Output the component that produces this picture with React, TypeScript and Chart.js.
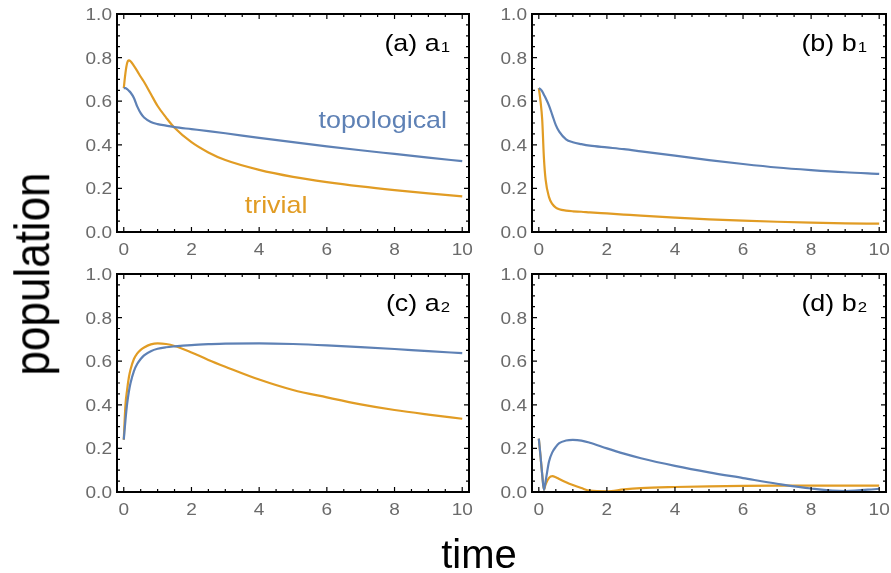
import React, { useEffect, useRef } from "react";
import { Chart, registerables } from "chart.js";

Chart.register(...registerables);

// ---------------- data ----------------
const TIME = [0, 0.05, 0.1, 0.15, 0.2, 0.3, 0.4, 0.5, 0.6, 0.8, 1, 1.25, 1.5, 2, 2.5, 3, 4, 5, 6, 7, 8, 9, 10];

const A1_TOPO = [0.66, 0.66, 0.655, 0.648, 0.64, 0.615, 0.575, 0.545, 0.525, 0.505, 0.495, 0.488, 0.481, 0.472, 0.463, 0.453, 0.432, 0.412, 0.393, 0.375, 0.358, 0.341, 0.325];
const A1_TRIV = [0.66, 0.73, 0.775, 0.787, 0.783, 0.762, 0.738, 0.712, 0.688, 0.633, 0.578, 0.525, 0.478, 0.412, 0.365, 0.33, 0.285, 0.253, 0.229, 0.209, 0.192, 0.177, 0.163];

const B1_TOPO = [0.66, 0.655, 0.645, 0.63, 0.615, 0.58, 0.535, 0.49, 0.46, 0.425, 0.412, 0.403, 0.396, 0.388, 0.38, 0.37, 0.35, 0.33, 0.312, 0.296, 0.284, 0.274, 0.267];
const B1_TRIV = [0.66, 0.6, 0.515, 0.34, 0.24, 0.16, 0.128, 0.112, 0.104, 0.098, 0.095, 0.093, 0.09, 0.085, 0.08, 0.075, 0.066, 0.058, 0.052, 0.047, 0.043, 0.04, 0.038];

const A2_TOPO = [0.24, 0.33, 0.405, 0.46, 0.5, 0.555, 0.588, 0.61, 0.627, 0.646, 0.657, 0.664, 0.668, 0.674, 0.678, 0.681, 0.682, 0.679, 0.673, 0.665, 0.656, 0.646, 0.637];
const A2_TRIV = [0.24, 0.4, 0.47, 0.525, 0.562, 0.61, 0.636, 0.652, 0.663, 0.677, 0.682, 0.679, 0.67, 0.64, 0.606, 0.575, 0.516, 0.468, 0.434, 0.402, 0.376, 0.355, 0.336];

const B2_TOPO = [0.245, 0.165, 0.08, 0.01, 0.05, 0.14, 0.183, 0.207, 0.224, 0.236, 0.239, 0.236, 0.226, 0.2, 0.176, 0.155, 0.12, 0.09, 0.064, 0.038, 0.016, 0.004, 0.015];
const B2_TRIV = [0.245, 0.165, 0.08, 0.01, 0.035, 0.065, 0.073, 0.068, 0.06, 0.045, 0.032, 0.018, 0.006, 0.003, 0.012, 0.018, 0.023, 0.026, 0.028, 0.029, 0.029, 0.029, 0.029];

const X_TICKS = [0, 2, 4, 6, 8, 10];
const X_TICK_LABELS = ["0", "2", "4", "6", "8", "10"];
const Y_TICKS = [0, 0.2, 0.4, 0.6, 0.8, 1.0];
const Y_TICK_LABELS = ["0.0", "0.2", "0.4", "0.6", "0.8", "1.0"];

const PANEL_NAMES = ["(a) a", "(b) b", "(c) a", "(d) b"];
const PANEL_SUBS = ["1", "1", "2", "2"];
const SERIES_NAMES = ["topological", "trivial"];

const X_TITLE = "time";
const Y_TITLE = "population";

// ---------------- styles ----------------
const BLUE = "#5E81B5";
const ORANGE = "#E19C24";
const TICK_GRAY = "#6a6a6a";
const FONT = "'Liberation Sans', Arial, sans-serif";
const SX = 1.12;

const W = 891;
const H = 573;

const AREAS = [
  { left: 117, top: 14, right: 469, bottom: 232 },
  { left: 532, top: 14, right: 886, bottom: 232 },
  { left: 117, top: 274, right: 469, bottom: 492 },
  { left: 532, top: 274, right: 886, bottom: 492 },
];

const SERIES = [
  [A1_TOPO, A1_TRIV],
  [B1_TOPO, B1_TRIV],
  [A2_TOPO, A2_TRIV],
  [B2_TOPO, B2_TRIV],
];

function stretchText(
  ctx: CanvasRenderingContext2D,
  text: string,
  x: number,
  y: number,
  font: string,
  color: string,
  align: CanvasTextAlign,
  sx = SX
) {
  ctx.save();
  ctx.font = font;
  ctx.fillStyle = color;
  ctx.textAlign = align;
  ctx.textBaseline = "alphabetic";
  ctx.translate(x, y);
  ctx.scale(sx, 1);
  ctx.fillText(text, 0, 0);
  ctx.restore();
}

function makeFramePlugin(idx: number) {
  return {
    id: "frame" + idx,
    afterDatasetsDraw(chart: any) {
      const ctx: CanvasRenderingContext2D = chart.ctx;
      const a = chart.chartArea;
      const xs = chart.scales.x;
      const ys = chart.scales.y;
      ctx.save();
      // ticks
      ctx.strokeStyle = "#000";
      ctx.lineWidth = 1.2;
      ctx.beginPath();
      for (let i = 0; i <= 20; i++) {
        const v = i * 0.5;
        const px = xs.getPixelForValue(v);
        const len = i % 4 === 0 ? 5 : 3;
        ctx.moveTo(px, a.bottom);
        ctx.lineTo(px, a.bottom - len);
        ctx.moveTo(px, a.top);
        ctx.lineTo(px, a.top + len);
      }
      for (let i = 0; i <= 20; i++) {
        const v = i * 0.05;
        const py = ys.getPixelForValue(v);
        const len = i % 4 === 0 ? 5 : 3;
        ctx.moveTo(a.left, py);
        ctx.lineTo(a.left + len, py);
        ctx.moveTo(a.right, py);
        ctx.lineTo(a.right - len, py);
      }
      ctx.stroke();
      // frame
      ctx.lineWidth = 2;
      ctx.strokeRect(a.left, a.top, a.right - a.left, a.bottom - a.top);
      ctx.restore();

      // tick labels
      const tf = "17px " + FONT;
      X_TICKS.forEach((v, i) => {
        stretchText(ctx, X_TICK_LABELS[i], xs.getPixelForValue(v), a.bottom + 23, tf, TICK_GRAY, "center");
      });
      Y_TICKS.forEach((v, i) => {
        stretchText(ctx, Y_TICK_LABELS[i], a.left - 5, ys.getPixelForValue(v) + 6, tf, TICK_GRAY, "right");
      });

      // panel label with subscript
      const mainFont = "24px " + FONT;
      const subFont = "15px " + FONT;
      ctx.save();
      ctx.font = subFont;
      const subW = ctx.measureText(PANEL_SUBS[idx]).width * SX;
      ctx.restore();
      const rightX = a.right - 19;
      const base = a.top + 37;
      stretchText(ctx, PANEL_SUBS[idx], rightX, base + 1, subFont, "#000", "right");
      stretchText(ctx, PANEL_NAMES[idx], rightX - subW - 1, base, mainFont, "#000", "right");

      if (idx === 0) {
        const nf = "24px " + FONT;
        stretchText(ctx, SERIES_NAMES[0], xs.getPixelForValue(9.55), ys.getPixelForValue(0.477), nf, BLUE, "right");
        stretchText(ctx, SERIES_NAMES[1], xs.getPixelForValue(4.5), ys.getPixelForValue(0.087), nf, ORANGE, "center");
      }
    },
  };
}

function Panel({ idx }: { idx: number }) {
  const ref = useRef<HTMLCanvasElement | null>(null);
  useEffect(() => {
    if (!ref.current) return;
    const area = AREAS[idx];
    const [topo, triv] = SERIES[idx];
    const chart = new Chart(ref.current, {
      type: "line",
      data: {
        datasets: [
          {
            label: SERIES_NAMES[0],
            data: TIME.map((t, i) => ({ x: t, y: topo[i] })),
            borderColor: BLUE,
            borderWidth: 2.2,
            pointRadius: 0,
            cubicInterpolationMode: "monotone",
            fill: false,
          },
          {
            label: SERIES_NAMES[1],
            data: TIME.map((t, i) => ({ x: t, y: triv[i] })),
            borderColor: ORANGE,
            borderWidth: 2.2,
            pointRadius: 0,
            cubicInterpolationMode: "monotone",
            fill: false,
          },
        ],
      },
      options: {
        responsive: false,
        animation: false,
        events: [],
        layout: {
          padding: {
            left: area.left,
            top: area.top,
            right: W - area.right,
            bottom: H - area.bottom,
          },
        },
        plugins: { legend: { display: false }, tooltip: { enabled: false } },
        scales: {
          x: { type: "linear", min: -0.2, max: 10.2, display: false },
          y: { type: "linear", min: 0, max: 1, display: false },
        },
      },
      plugins: [makeFramePlugin(idx)],
    } as any);
    return () => chart.destroy();
  }, [idx]);
  return (
    <canvas
      ref={ref}
      width={W}
      height={H}
      style={{ position: "absolute", left: 0, top: 0, width: W, height: H }}
    />
  );
}

export default function App() {
  return (
    <div
      style={{
        position: "absolute",
        left: 0,
        top: 0,
        width: W,
        height: H,
        background: "#fff",
        overflow: "hidden",
        fontFamily: FONT,
      }}
    >
      {[0, 1, 2, 3].map((i) => (
        <Panel key={i} idx={i} />
      ))}
      <div
        style={{
          position: "absolute",
          left: 32,
          top: 274,
          transform: "translate(-50%, -50%) rotate(-90deg) scale(1, 1.15)",
          fontSize: 44,
          lineHeight: 1,
          whiteSpace: "nowrap",
          color: "#000",
        }}
      >
        {Y_TITLE}
      </div>
      <div
        style={{
          position: "absolute",
          left: 479,
          top: 534,
          transform: "translateX(-50%)",
          fontSize: 40,
          lineHeight: 1,
          whiteSpace: "nowrap",
          color: "#000",
        }}
      >
        {X_TITLE}
      </div>
    </div>
  );
}
